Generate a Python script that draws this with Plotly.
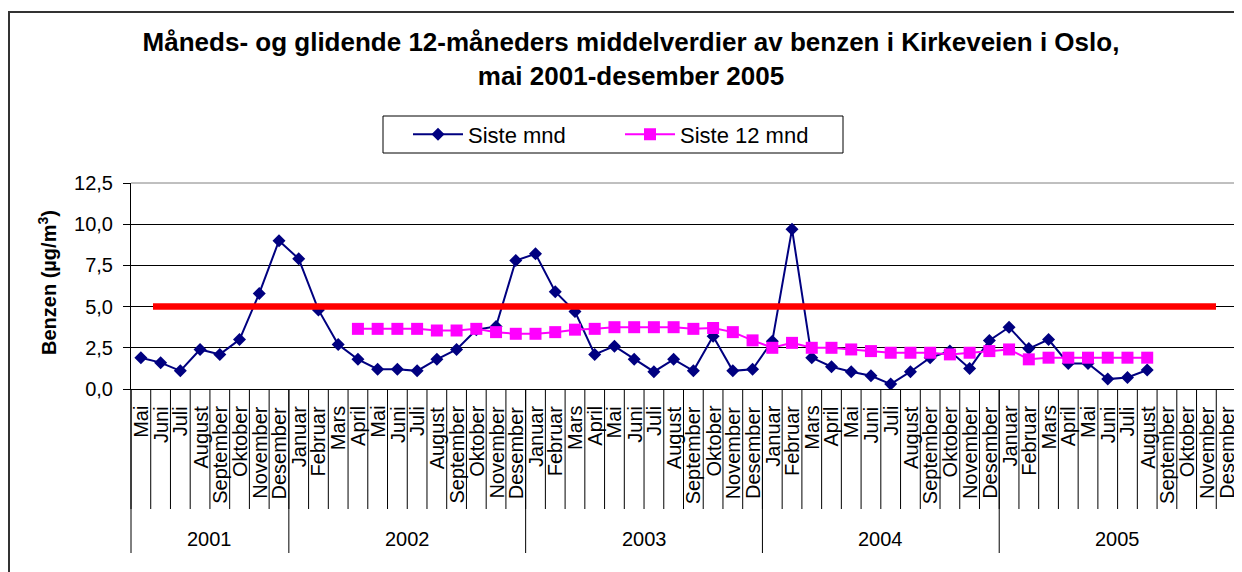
import plotly.graph_objects as go

# ---------------- data ----------------
YEARS = ["2001", "2002", "2003", "2004", "2005"]
MONTHS_2001 = ["Mai", "Juni", "Juli", "August", "September", "Oktober", "November", "Desember"]
MONTHS_YEAR = ["Januar", "Februar", "Mars", "April", "Mai", "Juni", "Juli", "August",
               "September", "Oktober", "November", "Desember"]

month_labels = MONTHS_2001 + MONTHS_YEAR * 4
year_of_month = ["2001"] * 8 + ["2002"] * 12 + ["2003"] * 12 + ["2004"] * 12 + ["2005"] * 12

siste_mnd = [1.9, 1.6, 1.1, 2.4, 2.1, 3.0, 5.8, 9.0,
             7.9, 4.8, 2.7, 1.8, 1.2, 1.2, 1.1, 1.8, 2.4, 3.6, 3.8, 7.8,
             8.2, 5.9, 4.7, 2.1, 2.6, 1.8, 1.05, 1.8, 1.1, 3.2, 1.1, 1.2,
             2.9, 9.7, 1.9, 1.35, 1.05, 0.8, 0.3, 1.05, 1.9, 2.3, 1.25, 2.95,
             3.75, 2.45, 3.0, 1.55, 1.55, 0.6, 0.7, 1.15, None, None, None, None]

siste_12_mnd = [None] * 8 + \
    [None, None, None, 3.65, 3.65, 3.65, 3.65, 3.55, 3.55, 3.65, 3.45, 3.35,
     3.35, 3.45, 3.6, 3.65, 3.75, 3.75, 3.75, 3.75, 3.65, 3.7, 3.45, 2.95,
     2.5, 2.8, 2.5, 2.5, 2.4, 2.3, 2.2, 2.2, 2.2, 2.1, 2.2, 2.3,
     2.4, 1.8, 1.9, 1.9, 1.9, 1.9, 1.9, 1.9, None, None, None, None]

LIMIT = 5.0

TITLE = ("Måneds- og glidende 12-måneders middelverdier av benzen i Kirkeveien i Oslo,"
         "<br>mai 2001-desember 2005")
Y_TITLE = "Benzen (µg/m<sup>3</sup>)"

# ---------------- layout geometry ----------------
OFF = 8                      # page body margin
W, H = 1242 - OFF, 572 - OFF
ML, MR, MT, MB = 123, 6, 175, 183
PW = W - ML - MR
PH = H - MT - MB

def px_x(p):
    return (p - OFF - ML) / PW

def px_y(p):
    return (H - MB - (p - OFF)) / PH

FONT = "Arial, Liberation Sans, sans-serif"
n = len(month_labels)
xs = list(range(n))

fig = go.Figure()
fig.add_trace(go.Scatter(
    x=xs, y=siste_mnd, name="Siste mnd", mode="lines+markers",
    line=dict(color="#000080", width=2),
    marker=dict(symbol="diamond", size=10, color="#000080"),
))
fig.add_trace(go.Scatter(
    x=xs, y=siste_12_mnd, name="Siste 12 mnd", mode="lines+markers",
    line=dict(color="#FF00FF", width=2),
    marker=dict(symbol="square", size=12, color="#FF00FF"),
))

shapes = []
# month separators
for i in range(n + 1):
    shapes.append(dict(type="line", xref="paper", yref="paper",
                       x0=i / n, x1=i / n, y0=0, y1=px_y(509),
                       line=dict(color="black", width=1)))
# year separators
pos = 0
bounds = [0]
for yv in YEARS:
    pos += year_of_month.count(yv)
    bounds.append(pos)
for b in bounds:
    shapes.append(dict(type="line", xref="paper", yref="paper",
                       x0=b / n, x1=b / n, y0=0, y1=px_y(553),
                       line=dict(color="black", width=1)))
# plot-area border (top/right gray)
shapes.append(dict(type="line", xref="paper", yref="paper", x0=0, x1=1, y0=1, y1=1,
                   line=dict(color="#808080", width=1)))
shapes.append(dict(type="line", xref="paper", yref="paper", x0=1, x1=1, y0=0, y1=1,
                   line=dict(color="#808080", width=1)))
# outer chart box
shapes.append(dict(type="rect", xref="paper", yref="paper",
                   x0=px_x(9), x1=px_x(1250), y0=px_y(12), y1=px_y(600),
                   line=dict(color="#333333", width=2)))
# legend box
shapes.append(dict(type="rect", xref="paper", yref="paper",
                   x0=px_x(383), x1=px_x(843), y0=px_y(116), y1=px_y(153),
                   line=dict(color="black", width=1)))
# limit line
shapes.append(dict(type="line", xref="paper", yref="y",
                   x0=px_x(153), x1=px_x(1216), y0=LIMIT, y1=LIMIT,
                   line=dict(color="#FF0000", width=6.5), layer="above"))

annotations = []
# month labels (rotated, hanging from the axis)
for i, m in enumerate(month_labels):
    annotations.append(dict(x=xs[i], y=px_y(405), xref="x", yref="paper", text=m,
                            textangle=-90, showarrow=False, xanchor="center", yanchor="top",
                            borderpad=0,
                            font=dict(family=FONT, size=20, color="black")))
# year labels
for k, yv in enumerate(YEARS):
    mid = (bounds[k] + bounds[k + 1] - 1) / 2
    annotations.append(dict(x=mid, y=px_y(539), xref="x", yref="paper", text=yv,
                            showarrow=False, xanchor="center", yanchor="middle",
                            font=dict(family=FONT, size=20, color="black")))
annotations.append(dict(x=px_x(47), y=px_y(283), xref="paper", yref="paper",
                        text="<b>" + Y_TITLE + "</b>",
                        textangle=-90, showarrow=False, xanchor="center", yanchor="middle",
                        font=dict(family=FONT, size=20, color="black")))

fig.update_layout(
    width=W, height=H,
    margin=dict(l=ML, r=MR, t=MT, b=MB, autoexpand=False),
    template="none",
    paper_bgcolor="white", plot_bgcolor="white",
    separators=",.",
    font=dict(family=FONT, color="black"),
    title=dict(text="<b>" + TITLE + "</b>", x=(631 - OFF) / W, xanchor="center",
               y=1 - (51 - OFF) / H, yanchor="top", yref="container",
               font=dict(family=FONT, size=26, color="black")),
    showlegend=True,
    legend=dict(orientation="h", x=px_x(408), xanchor="left", y=px_y(134.5), yanchor="middle",
                font=dict(family=FONT, size=22, color="black"), bgcolor="rgba(0,0,0,0)",
                borderwidth=0, itemwidth=50, entrywidth=147, entrywidthmode="pixels"),
    xaxis=dict(range=[-0.5, n - 0.5], showticklabels=False, ticks="",
               showgrid=False, zeroline=False,
               showline=True, linecolor="black", linewidth=1, automargin=False),
    yaxis=dict(range=[0, 12.5], dtick=2.5, tick0=0, tickformat=".1f",
               ticks="outside", ticklen=7, tickcolor="black", tickwidth=1,
               showgrid=True, gridcolor="black", gridwidth=1, zeroline=False,
               showline=True, linecolor="black", linewidth=1,
               tickfont=dict(family=FONT, size=20, color="black"),
               ticklabelstandoff=6, automargin=False),
    shapes=shapes,
    annotations=annotations,
)

fig.write_html("out.html")
